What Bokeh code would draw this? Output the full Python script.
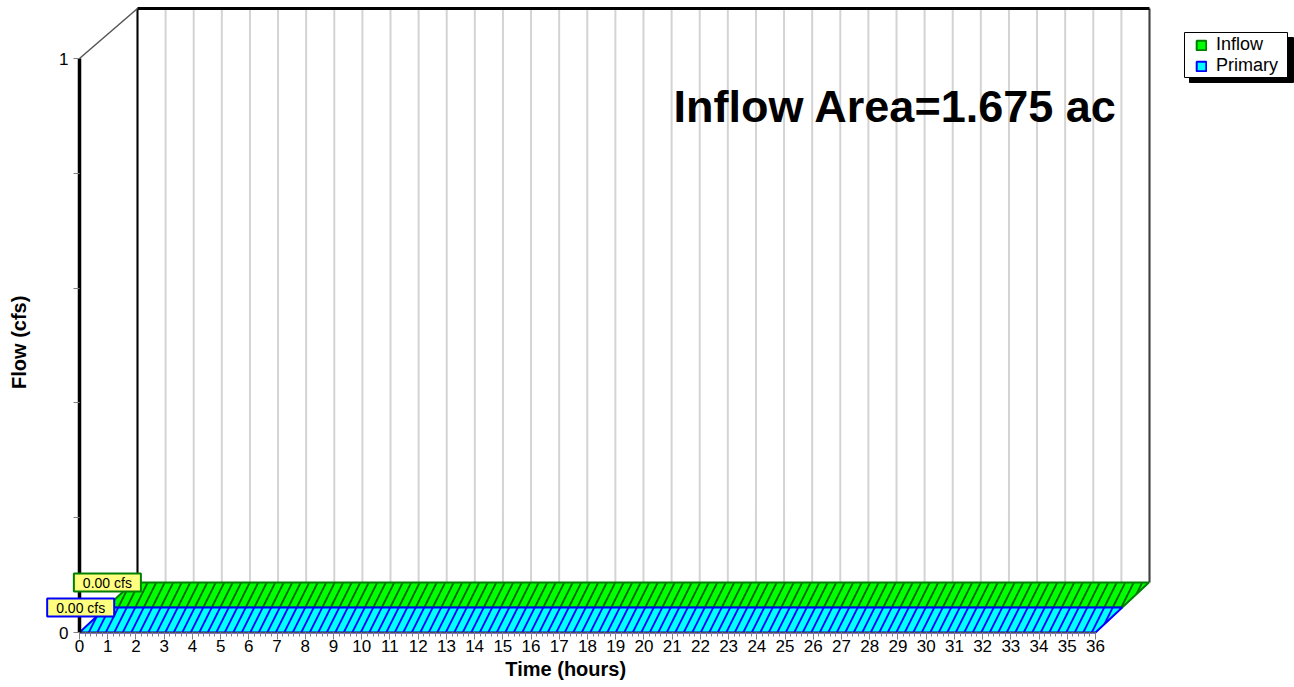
import math
from bokeh.plotting import figure
from bokeh.models import Range1d, FixedTicker, Label, Legend, LegendItem
from bokeh.embed import file_html
from bokeh.resources import INLINE

# ---------------- data ----------------
hours = [0, 1, 2, 3, 4, 5, 6, 7, 8, 9, 10, 11, 12, 13, 14, 15, 16, 17, 18,
         19, 20, 21, 22, 23, 24, 25, 26, 27, 28, 29, 30, 31, 32, 33, 34, 35, 36]
inflow_cfs = [0.00, 0.00, 0.00, 0.00, 0.00, 0.00, 0.00, 0.00, 0.00, 0.00,
              0.00, 0.00, 0.00, 0.00, 0.00, 0.00, 0.00, 0.00, 0.00, 0.00,
              0.00, 0.00, 0.00, 0.00, 0.00, 0.00, 0.00, 0.00, 0.00, 0.00,
              0.00, 0.00, 0.00, 0.00, 0.00, 0.00, 0.00]
primary_cfs = [0.00, 0.00, 0.00, 0.00, 0.00, 0.00, 0.00, 0.00, 0.00, 0.00,
               0.00, 0.00, 0.00, 0.00, 0.00, 0.00, 0.00, 0.00, 0.00, 0.00,
               0.00, 0.00, 0.00, 0.00, 0.00, 0.00, 0.00, 0.00, 0.00, 0.00,
               0.00, 0.00, 0.00, 0.00, 0.00, 0.00, 0.00]
series_names = ["Inflow", "Primary"]
peak_texts = ["0.00 cfs", "0.00 cfs"]
area_text = "Inflow Area=1.675 ac"
y_ticks = [0, 0.2, 0.4, 0.6, 0.8, 1.0]
y_tick_labels = ["0", "", "", "", "", "1"]
x_title = "Time  (hours)"
y_title = "Flow  (cfs)"

# ---------------- geometry (image pixels -> data) ----------------
W, H = 1294, 687
X0_PX, X36_PX = 79, 1095      # image x of hour 0 and hour 36
Y0_PX, Y1_PX = 632, 58        # image y of flow 0 and flow 1
PXH = (X36_PX - X0_PX) / 36.0
PXV = float(Y0_PX - Y1_PX)
LAYER_DX = 26.7 / PXH
LAYER_DY = 25.0 / PXV
WALL_DX = 58.0 / PXH                       # back wall offset at hour 0
WALL_SCALE = ((1149 - 137) / 36.0) / PXH   # back wall hour spacing (perspective)


def dx(px):
    return (px - X0_PX) / PXH


def dy(py):
    return (Y0_PX - py) / PXV


FONT = "Liberation Sans"

p = figure(width=W, height=H,
           x_range=Range1d(dx(0), dx(W)), y_range=Range1d(dy(H), dy(0)),
           min_border_left=0, min_border_right=0, min_border_top=0, min_border_bottom=0,
           output_backend="svg", toolbar_location=None)
p.outline_line_color = None
p.background_fill_color = "white"
p.border_fill_color = "white"
p.xgrid.visible = False
p.ygrid.visible = False

# ---------------- back wall ----------------
wall_dy = 2 * LAYER_DY
wall_top = 1.0 + wall_dy
wall_x = [h * WALL_SCALE + WALL_DX for h in hours]
p.segment(x0=wall_x, y0=[wall_dy] * len(hours), x1=wall_x, y1=[wall_top] * len(hours),
          line_color="#a8a8a8", line_width=2, line_dash="1 1")
p.line([wall_x[0], wall_x[0]], [wall_dy, wall_top], line_color="black", line_width=2)
p.line([wall_x[-1], wall_x[-1]], [wall_dy, wall_top], line_color="#404040", line_width=2)
p.line([wall_x[0], wall_x[-1]], [wall_top, wall_top], line_color="black", line_width=3)
p.line([hours[0], wall_x[0]], [1.0, wall_top], line_color="#555555", line_width=1.5)

# ---------------- ribbons ----------------
styles = {
    "Inflow": dict(fill="#00FF00", line="#008000", hatch="#006400"),
    "Primary": dict(fill="#00FFFF", line="#0000FF", hatch="#0000FF"),
}
series_values = {"Inflow": inflow_cfs, "Primary": primary_cfs}
layers = {"Primary": 0, "Inflow": 1}
legend_r = {}
for name in ["Inflow", "Primary"]:
    vals = series_values[name]
    k = layers[name]
    st = styles[name]
    xs = [h + k * LAYER_DX for h in hours] + [h + (k + 1) * LAYER_DX for h in reversed(hours)]
    ys = [v + k * LAYER_DY for v in vals] + [v + (k + 1) * LAYER_DY for v in reversed(vals)]
    p.patch(xs, ys, fill_color=st["fill"], line_color=st["line"], line_width=2,
            hatch_pattern="/", hatch_color=st["hatch"], hatch_scale=17, hatch_weight=1.8)
    # plain (unhatched) twin used only for the legend swatch
    legend_r[name] = p.patch(xs, ys, fill_color=st["fill"], line_color=st["line"],
                             line_width=2, visible=False)

# axis lines
p.line([hours[0], hours[-1]], [0, 0], line_color="#505050", line_width=1.5)
p.line([0, 0], [0, 1.0], line_color="black", line_width=3.5)

# ---------------- peak labels ----------------
for name, txt in zip(series_names, peak_texts):
    vals = series_values[name]
    k = layers[name]
    st = styles[name]
    pk = max(vals)
    t_pk = hours[vals.index(pk)]
    lab = Label(x=t_pk + (k + 1) * LAYER_DX, y=pk + (k + 1) * LAYER_DY, text=txt,
                text_align="right", text_baseline="middle", x_offset=8,
                text_font=FONT, text_font_size="14px", text_color="black",
                background_fill_color="#FFFF80", border_line_color=st["line"],
                border_line_width=2)
    try:
        lab.padding = dict(left=9, right=9, top=1, bottom=1)
    except Exception:
        lab.padding = 4
    p.add_layout(lab)

# ---------------- texts ----------------
p.add_layout(Label(x=dx(1117), y=dy(106), text=area_text, text_align="right",
                   text_baseline="middle", text_font=FONT, text_font_size="45px",
                   text_font_style="bold", text_color="black"))
p.add_layout(Label(x=dx(568), y=dy(668), text=x_title, text_align="center",
                   text_baseline="middle", text_font=FONT, text_font_size="20px",
                   text_font_style="bold", text_color="black"))
p.add_layout(Label(x=dx(18), y=dy(339), text=y_title, text_align="center",
                   text_baseline="middle", angle=math.pi / 2, text_font=FONT,
                   text_font_size="20px", text_font_style="bold", text_color="black"))

# ---------------- legend ----------------
p.quad(left=[dx(1189)], right=[dx(1293)], top=[dy(37)], bottom=[dy(82)], fill_color="black", line_color="black")
p.quad(left=[dx(1184)], right=[dx(1287)], top=[dy(32)], bottom=[dy(77)], fill_color="white", line_color="black", line_width=1)
legend = Legend(items=[LegendItem(label=n, renderers=[legend_r[n]]) for n in series_names],
                location=(1189, H - 82), orientation="vertical",
                padding=6, spacing=0, margin=0, glyph_width=12, glyph_height=12,
                label_height=15, label_standoff=9, label_text_font=FONT,
                label_text_font_size="18px", label_text_baseline="middle",
                label_text_color="black",
                border_line_alpha=0, background_fill_alpha=0)
p.add_layout(legend)

# ---------------- axes ----------------
xa = p.xaxis[0]
xa.fixed_location = 0
xa.ticker = FixedTicker(ticks=hours, minor_ticks=[i / 5 for i in range(0, 181)])
xa.axis_line_color = None
xa.major_tick_line_color = "#808080"
xa.major_tick_out = 7
xa.major_tick_in = 0
xa.minor_tick_line_color = "#808080"
xa.minor_tick_out = 4
xa.minor_tick_in = 0
xa.major_label_text_font = FONT
xa.major_label_text_font_size = "17px"
xa.major_label_text_color = "black"
xa.major_label_standoff = 0

ya = p.yaxis[0]
ya.fixed_location = 0
ya.ticker = FixedTicker(ticks=y_ticks)
ya.major_label_overrides = {t: s for t, s in zip(y_ticks, y_tick_labels)}
ya.axis_line_color = None
ya.major_tick_line_color = "#808080"
ya.major_tick_out = 6
ya.major_tick_in = 0
ya.minor_tick_line_color = None
ya.major_label_text_font = FONT
ya.major_label_text_font_size = "17px"
ya.major_label_text_color = "black"
ya.major_label_standoff = 5

open("out.html", "w").write(file_html(p, INLINE))
